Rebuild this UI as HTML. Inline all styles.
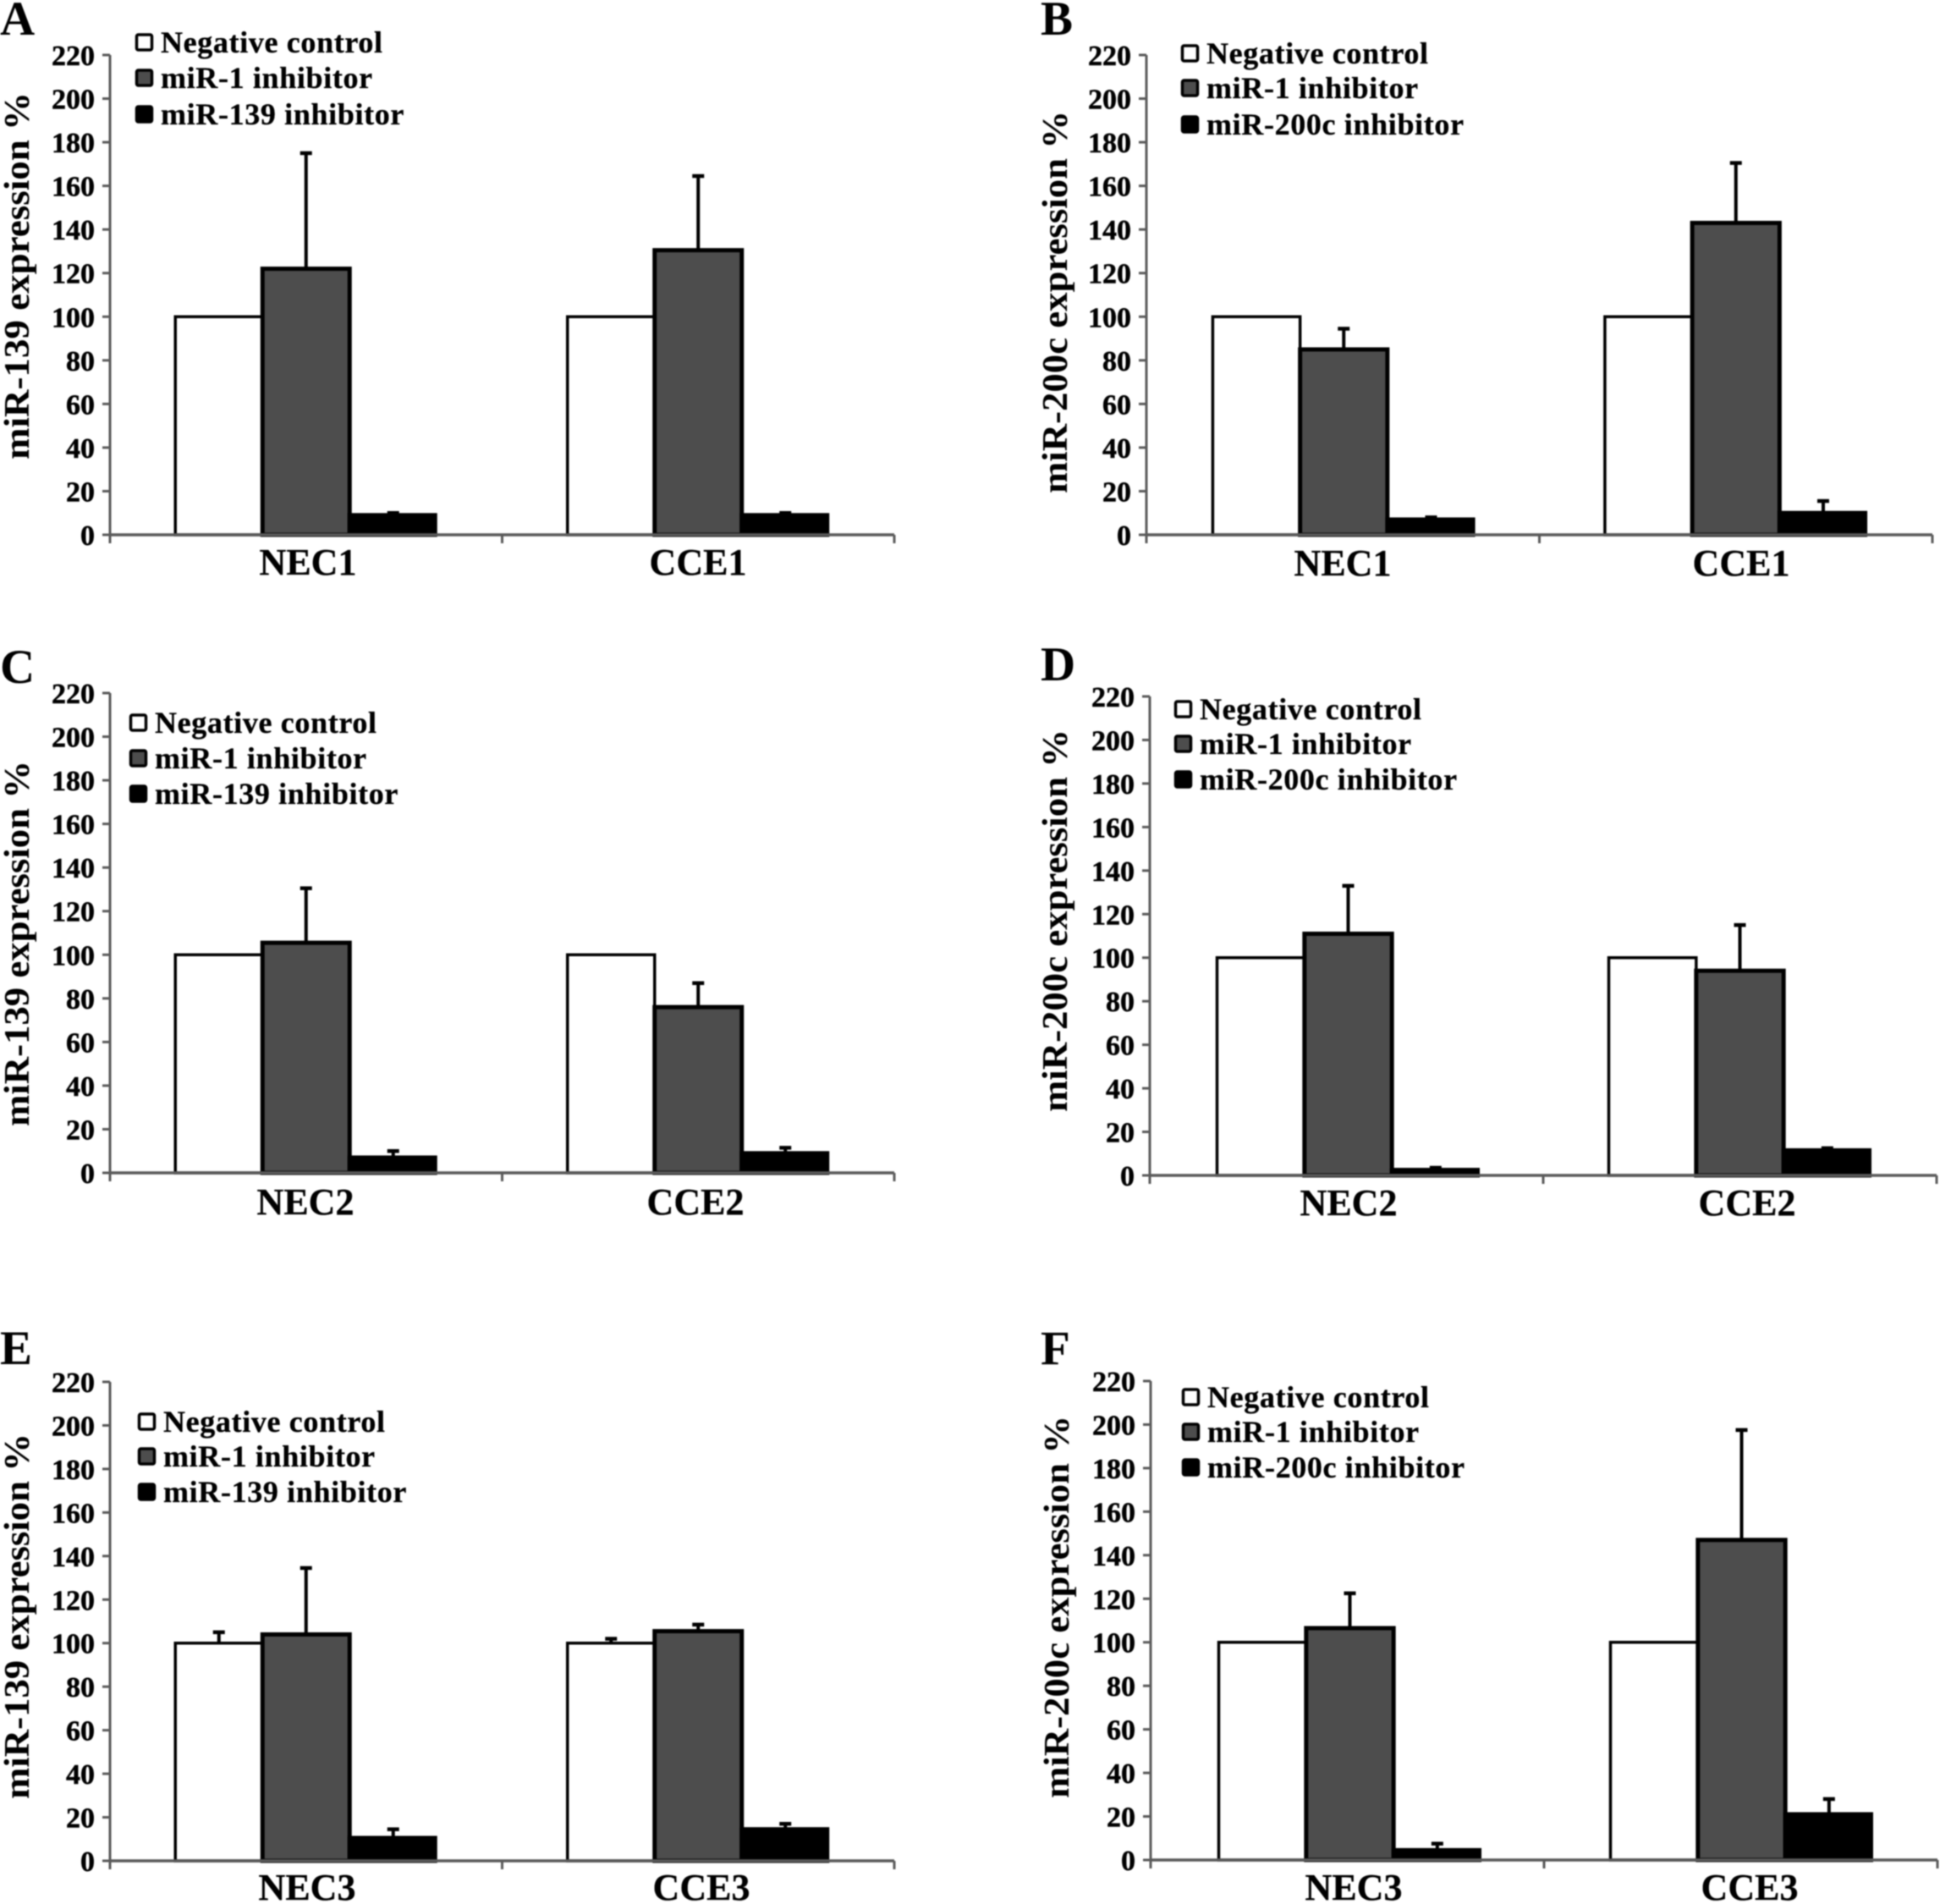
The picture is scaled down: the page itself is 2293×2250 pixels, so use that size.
<!DOCTYPE html>
<html lang="en">
<head>
<meta charset="utf-8">
<title>miRNA expression panels</title>
<style>
html,body{margin:0;padding:0;background:#fff;width:2293px;height:2250px;overflow:hidden}
svg{display:block;filter:blur(0.7px)}
text{font-family:"Liberation Serif",serif;font-weight:bold;fill:#000}
</style>
</head>
<body>
<svg id="figure" xmlns="http://www.w3.org/2000/svg" width="2293" height="2250" viewBox="0 0 2293 2250"></svg>
<script>
// ---- chart data ----
const tickLabels = [0,20,40,60,80,100,120,140,160,180,200,220];
const seriesColors = ['#ffffff','#4d4d4d','#000000'];

const panelLetters = ['A','B','C','D','E','F'];
const yTitles = ['miR-139 expression %','miR-200c expression %','miR-139 expression %','miR-200c expression %','miR-139 expression %','miR-200c expression %'];
const categoriesA = ['NEC1','CCE1'];
const categoriesB = ['NEC1','CCE1'];
const categoriesC = ['NEC2','CCE2'];
const categoriesD = ['NEC2','CCE2'];
const categoriesE = ['NEC3','CCE3'];
const categoriesF = ['NEC3','CCE3'];
const legendA = ['Negative control','miR-1 inhibitor','miR-139 inhibitor'];
const legendB = ['Negative control','miR-1 inhibitor','miR-200c inhibitor'];

const negativeA = [100,100];   const mir1A = [122,130.5];  const inhibitorA = [9,9];
const negativeB = [100,100];   const mir1B = [85,143];     const inhibitorB = [7,10];
const negativeC = [100,100];   const mir1C = [105.5,76];   const inhibitorC = [7,9];
const negativeD = [100,100];   const mir1D = [111,94];     const inhibitorD = [2.5,11.5];
const negativeE = [100,100];   const mir1E = [104,105.5];  const inhibitorE = [10.5,14.5];
const negativeF = [100,100];   const mir1F = [106.5,147];  const inhibitorF = [4.5,21];

// upper end of each error bar (null = none drawn)
const negativeTopA = [null,null]; const mir1TopA = [175,164.5];  const inhibitorTopA = [10,10];
const negativeTopB = [null,null]; const mir1TopB = [94.5,170.5]; const inhibitorTopB = [8,15.5];
const negativeTopC = [null,null]; const mir1TopC = [130.5,87];   const inhibitorTopC = [10,11.5];
const negativeTopD = [null,null]; const mir1TopD = [133,115];    const inhibitorTopD = [3.5,12.5];
const negativeTopE = [105,102];   const mir1TopE = [134.5,108.5];const inhibitorTopE = [14.5,17];
const negativeTopF = [null,null]; const mir1TopF = [122.5,197.5];const inhibitorTopF = [7.5,28];

const panelValues = [
  {cats:categoriesA,legend:legendA,vals:[negativeA,mir1A,inhibitorA],tops:[negativeTopA,mir1TopA,inhibitorTopA]},
  {cats:categoriesB,legend:legendB,vals:[negativeB,mir1B,inhibitorB],tops:[negativeTopB,mir1TopB,inhibitorTopB]},
  {cats:categoriesC,legend:legendA,vals:[negativeC,mir1C,inhibitorC],tops:[negativeTopC,mir1TopC,inhibitorTopC]},
  {cats:categoriesD,legend:legendB,vals:[negativeD,mir1D,inhibitorD],tops:[negativeTopD,mir1TopD,inhibitorTopD]},
  {cats:categoriesE,legend:legendA,vals:[negativeE,mir1E,inhibitorE],tops:[negativeTopE,mir1TopE,inhibitorTopE]},
  {cats:categoriesF,legend:legendB,vals:[negativeF,mir1F,inhibitorF],tops:[negativeTopF,mir1TopF,inhibitorTopF]}
];

// ---- page layout (pixels, separate from data) ----
const layouts = [
  {x0:130, x1:1057,y0:632, yTop:65,  lx:160, ly:[50,92,135],   letter:[0,41],    title:[34,326,434],  labelX:[364,825],  labelY:679, shift:[0,0]},
  {x0:1355,x1:2284,y0:632, yTop:65,  lx:1396,ly:[63,104,147],  letter:[1230,41], title:[1261,357,452],labelX:[1587,2058],labelY:680, shift:[1,0]},
  {x0:130, x1:1057,y0:1386,yTop:819, lx:153, ly:[854,896,938], letter:[0,807],   title:[34,1115,432], labelX:[361,822],  labelY:1435,shift:[0,0]},
  {x0:1359,x1:2289,y0:1389,yTop:823, lx:1388,ly:[838,879,921], letter:[1230,804],title:[1261,1088,452],labelX:[1594,2065],labelY:1436,shift:[2,0]},
  {x0:130, x1:1057,y0:2199,yTop:1633,lx:163, ly:[1680,1721,1763],letter:[0,1612],title:[34,1910,432], labelX:[363,829],  labelY:2245,shift:[0,0]},
  {x0:1360,x1:2290,y0:2198,yTop:1632,lx:1397,ly:[1651,1692,1734],letter:[1230,1612],title:[1263,1899,452],labelX:[1600,2068],labelY:2245,shift:[3,1]}
];

const svg = document.getElementById('figure');
const NS = 'http://www.w3.org/2000/svg';
function make(tag, attrs, parent, text){
  const n = document.createElementNS(NS, tag);
  for(const k in attrs){ n.setAttribute(k, attrs[k]); }
  if(text !== undefined){ n.textContent = text; }
  parent.appendChild(n);
  return n;
}
const AXIS = '#5a5a5a';
const seriesKeys = ['negative-control','mir-1-inhibitor','inhibitor'];

panelValues.forEach(function(panel, p){
  const L = layouts[p];
  const letter = panelLetters[p].toLowerCase();
  const g = make('g', {}, svg);
  
  

  const yScale = function(v){ return L.y0 - v * (L.y0 - L.yTop) / 220; };
  const band = (L.x1 - L.x0) / panel.cats.length;
  const barW = band / 4.5;
  const xScale = function(c, s){ return L.x0 + c * band + barW * 0.75 + s * barW + L.shift[c]; };

  const pl = make('text', {x:L.letter[0], y:L.letter[1], 'font-size':57}, g, panelLetters[p]);
  
  

  const yt = make('text', {transform:'translate(' + L.title[0] + ',' + L.title[1] + ') rotate(-90)', 'text-anchor':'middle', 'font-size':42, textLength:L.title[2], lengthAdjust:'spacingAndGlyphs'}, g, yTitles[p]);
  
  

  // bars first, error bars on top
  panel.cats.forEach(function(cat, c){
    panel.vals.forEach(function(series, s){
      const top = panel.tops[s][c];
      if(top !== null){
        const cx = xScale(c, s) + barW / 2;
        const er = make('line', {x1:cx, x2:cx, y1:yScale(series[c]), y2:yScale(top), stroke:'#000', 'stroke-width':4}, g);
        
        
        const cap = make('line', {x1:cx - 7, x2:cx + 7, y1:yScale(top), y2:yScale(top), stroke:'#000', 'stroke-width':4.5}, g);
        
        
      }
    });
  });
  panel.cats.forEach(function(cat, c){
    panel.vals.forEach(function(series, s){
      const x = xScale(c, s);
      const y = yScale(series[c]);
      const b = make('rect', {x:x, y:y, width:s === 2 ? barW - 2 : barW, height:L.y0 - y, fill:seriesColors[s], stroke:'#000', 'stroke-width': s === 0 ? 3.5 : 5}, g);
      
      
    });
  });

  // axes
  const ya = make('line', {x1:L.x0, x2:L.x0, y1:L.yTop, y2:L.y0, stroke:AXIS, 'stroke-width':3}, g);
  
  
  const xa = make('line', {x1:L.x0, x2:L.x1, y1:L.y0, y2:L.y0, stroke:AXIS, 'stroke-width':3.5}, g);
  
  

  tickLabels.forEach(function(t){
    const y = yScale(t);
    const tk = make('line', {x1:L.x0 - 9, x2:L.x0, y1:y, y2:y, stroke:AXIS, 'stroke-width':3}, g);
    
    
    const tl = make('text', {x:L.x0 - 18, y:y + 12, 'text-anchor':'end', 'font-size':34, stroke:'#000', 'stroke-width':0.5}, g, String(t));
    
    
  });

  for(let i = 0; i <= panel.cats.length; i++){
    const x = L.x0 + i * band;
    const xt = make('line', {x1:x, x2:x, y1:L.y0, y2:L.y0 + 10, stroke:AXIS, 'stroke-width':3}, g);
    
    
  }
  panel.cats.forEach(function(cat, c){
    const lb = make('text', {x:L.labelX[c], y:L.labelY, 'text-anchor':'middle', 'font-size':44, stroke:'#000', 'stroke-width':0.3}, g, cat);
    
    
  });

  // legend
  panel.legend.forEach(function(name, s){
    const cy = L.ly[s];
    const sw = make('rect', {x:L.lx + 1.5, y:cy - 9, width:18, height:18, rx:2, fill:seriesColors[s], stroke:'#000', 'stroke-width':3.5}, g);
    
    
    const lt = make('text', {x:L.lx + 30, y:cy + 12, 'font-size':36, 'letter-spacing':0.65, stroke:'#000', 'stroke-width':0.3}, g, name);
    
    
  });
});
</script>
</body>
</html>
